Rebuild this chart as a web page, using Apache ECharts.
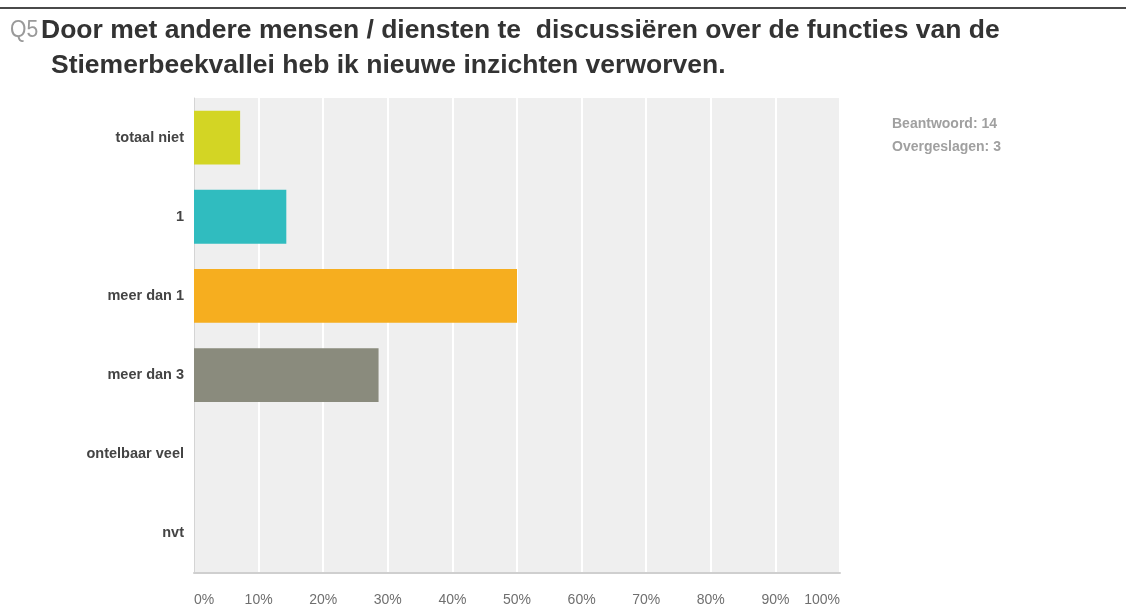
<!DOCTYPE html>
<html>
<head>
<meta charset="utf-8">
<title>Q5 Stiemerbeekvallei</title>
<script src="https://cdn.jsdelivr.net/npm/echarts@6/dist/echarts.min.js"></script>
<style>
  html, body { margin: 0; padding: 0; background: #ffffff; }
  #chart { width: 1126px; height: 612px; }
</style>
</head>
<body>
<div id="chart"></div>
<script>
// Answer options, top to bottom
const categories = ['totaal niet', '1', 'meer dan 1', 'meer dan 3', 'ontelbaar veel', 'nvt'];
// Share of respondents per option (%)
const percentages = [7.14, 14.29, 50, 28.57, 0, 0];
// Tick labels on the value axis
const tickValues = [0, 10, 20, 30, 40, 50, 60, 70, 80, 90, 100];
// Response counts shown on the right
const answered = 14;
const skipped = 3;

const barColors = ['#d3d524', '#30bcbf', '#f6ae1f', '#8a8b7d', '#8bbd3a', '#e05a3a'];
const FONT = '"Liberation Sans", Arial, Helvetica, sans-serif';

const chart = echarts.init(document.getElementById('chart'));

chart.setOption({
  animation: false,
  backgroundColor: '#ffffff',
  textStyle: { fontFamily: FONT },
  grid: {
    left: 194,
    right: 286,
    top: 98,
    bottom: 39,
    show: true,
    backgroundColor: '#efefef',
    borderWidth: 0
  },
  xAxis: {
    type: 'value',
    min: tickValues[0],
    max: tickValues[tickValues.length - 1],
    interval: tickValues[1] - tickValues[0],
    axisLine: { show: true, lineStyle: { color: '#cfcfcf', width: 2 } },
    axisTick: { show: false },
    splitLine: { show: true, lineStyle: { color: '#ffffff', width: 2 } },
    axisLabel: {
      formatter: '{value}%',
      color: '#6f6f6f',
      fontSize: 14,
      margin: 20,
      alignMinLabel: 'left',
      alignMaxLabel: 'right'
    }
  },
  yAxis: {
    type: 'category',
    inverse: true,
    data: categories,
    axisLine: { show: true, lineStyle: { color: '#d4d4d4', width: 1 } },
    axisTick: { show: false },
    splitLine: { show: false },
    axisLabel: {
      color: '#444444',
      fontSize: 14.5,
      fontWeight: 'bold',
      margin: 10
    }
  },
  series: [{
    type: 'bar',
    barWidth: '68%',
    data: percentages.map((v, i) => ({ value: v, itemStyle: { color: barColors[i] } })),
    label: { show: false }
  }],
  graphic: [
    {
      type: 'rect',
      shape: { x: 0, y: 7, width: 1126, height: 2 },
      style: { fill: '#4a4a4a' }
    },
    {
      // question number
      type: 'text',
      x: 10,
      y: 31,
      scaleX: 0.92,
      style: {
        text: 'Q5',
        fill: '#9a9a9a',
        font: '23px ' + FONT,
        verticalAlign: 'middle'
      }
    },
    {
      type: 'text',
      x: 41,
      y: 31,
      style: {
        text: 'Door met andere mensen / diensten te  discussiëren over de functies van de',
        fill: '#333333',
        font: 'bold 26.5px ' + FONT,
        verticalAlign: 'middle'
      }
    },
    {
      type: 'text',
      x: 51,
      y: 66,
      style: {
        text: 'Stiemerbeekvallei heb ik nieuwe inzichten verworven.',
        fill: '#333333',
        font: 'bold 26.5px ' + FONT,
        verticalAlign: 'middle'
      }
    },
    {
      type: 'text',
      x: 892,
      y: 124,
      style: {
        text: 'Beantwoord: ' + answered,
        fill: '#a0a0a0',
        font: 'bold 14px ' + FONT,
        verticalAlign: 'middle'
      }
    },
    {
      type: 'text',
      x: 892,
      y: 147,
      style: {
        text: 'Overgeslagen: ' + skipped,
        fill: '#a0a0a0',
        font: 'bold 14px ' + FONT,
        verticalAlign: 'middle'
      }
    }
  ]
});
</script>
</body>
</html>
